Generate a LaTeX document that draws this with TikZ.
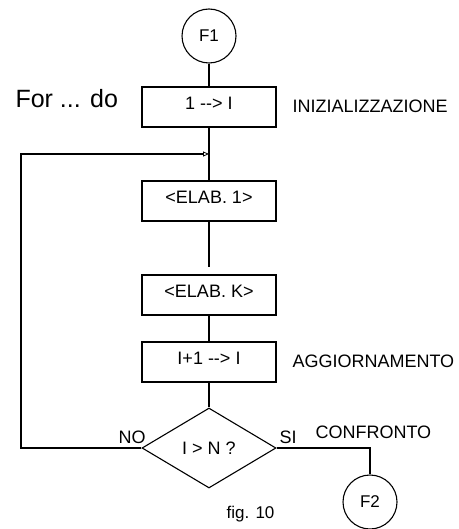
\documentclass[tikz,border=0pt]{standalone}
\usepackage{fontspec}
\setmainfont{Liberation Sans}[Ligatures=NoCommon]
\usetikzlibrary{shapes.geometric,arrows.meta}
\begin{document}
\begin{tikzpicture}[x=1pt,y=-1pt,line width=1.1pt,
  box/.style={draw,minimum width=134pt,minimum height=40pt,inner sep=0pt,
    font=\fontsize{18}{20}\selectfont,text depth=8pt},
  term/.style={draw,circle,minimum size=54pt,inner sep=0pt,
    font=\fontsize{17}{19}\selectfont},
  dec/.style={draw,diamond,minimum width=134pt,minimum height=80pt,inner sep=0pt,
    font=\fontsize{18}{20}\selectfont},
  lbl/.style={anchor=base west,inner sep=0pt,font=\fontsize{18}{20}\selectfont},
  tip/.style={-{Triangle[open,length=6pt,width=5pt,line width=0.8pt]}}]
\useasboundingbox (0,0) rectangle (458,529);
\node[term] (f1) at (209,36) {F1};
\node[box] (b1) at (209,107) {1 -{}-> I};
\node[box] (b2) at (209,201) {<ELAB. 1>};
\node[box] (b3) at (209,295) {<ELAB. K>};
\node[box] (b4) at (209,362) {I+1 -{}-> I};
\node[dec] (d) at (209,448) {I > N ?};
\node[term] (f2) at (370,502) {F2};
\coordinate (j) at (209,154);
\coordinate (gap) at (209,267);
\coordinate (lft) at (21,448);
\coordinate (rt) at (370,448);
\draw (f1) -- (b1);
\draw (b1) -- (b2);
\draw (b2) -- (gap);
\draw (b3) -- (b4);
\draw (b4) -- (d);
\draw[tip] (d.west) -- (lft) |- (j);
\draw (d.east) -- (rt) -- (f2);
\node[anchor=base west,inner sep=0pt,font=\fontsize{25}{28}\selectfont] (fordo) at (15,108) {For ... do};
\node[lbl] (ini) at (292,113) {INIZIALIZZAZIONE};
\node[lbl] (agg) at (292,367) {AGGIORNAMENTO};
\node[lbl] (conf) at (315,438) {CONFRONTO};
\node[lbl] (no) at (118,443) {NO};
\node[lbl] (si) at (279,443) {SI};
\node[anchor=base west,inner sep=0pt,font=\fontsize{17}{19}\selectfont] (fig) at (226,518) {fig. 10};
\end{tikzpicture}
\end{document}
